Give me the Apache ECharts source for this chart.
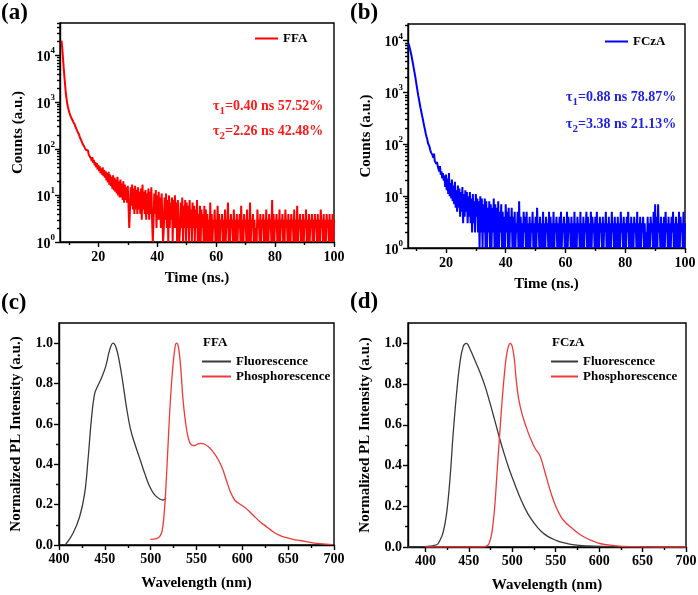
<!DOCTYPE html>
<html><head><meta charset="utf-8">
<script src="https://cdn.jsdelivr.net/npm/echarts@6/dist/echarts.min.js"></script>
<style>html,body{margin:0;padding:0;background:#fff}#c{width:698px;height:595px}</style>
</head><body><div id="c"></div>
<script>
// ---------------- data ----------------
const decayT0 = 7.5;      // ns, first channel
const decayStep = 0.25;   // ns per channel
const ffaCounts = [
  21000,15000,9000,5500,3500,2300,1500,1150,900,760,650,580,520,480,440,410,380,350,330,300,
  270,255,230,215,200,175,160,150,145,125,130,110,118,95,100,88,92,75,80,68,
  62,55,66,50,58,44,52,40,49,36,45,33,42,30,38,28,40,26,35,24,
  33,21,30,19,32,17,28,16,25,14,27,13,24,12,22,11,25,10,20,9,
  22,9,18,8,20,7,17,8,15,7,16,6,2,5,15,6,17,5,14,4,
  16,5,13,4,15,5,12,4,14,3,17,5,12,4,13,3,11,4,14,3,
  12,4,15,3,1,3,11,4,13,2,10,3,12,3,9,2,11,3,1,2,
  9,3,11,2,8,1,10,2,7,3,9,1,8,2,10,2,7,1,8,2,
  1,2,7,2,9,1,6,2,8,1,7,2,6,1,8,2,5,1,7,2,
  6,1,5,2,8,1,4,1,6,1,5,2,4,1,6,1,5,1,4,1,
  3,1,7,1,4,1,3,2,5,1,3,1,6,1,4,1,3,2,4,1,
  3,1,5,1,3,2,7,1,3,1,4,2,3,1,5,1,3,1,4,1,
  3,2,4,1,6,1,3,1,4,2,3,1,5,1,3,1,7,1,3,2,
  4,1,3,1,2,1,5,2,3,1,4,1,3,2,4,1,3,1,5,1,
  3,1,4,2,3,1,8,1,4,1,3,2,4,1,3,1,5,1,3,2,
  4,1,3,1,5,2,3,1,4,1,3,1,4,2,3,1,5,1,3,1,
  6,1,3,2,4,1,3,1,4,1,3,2,5,1,3,1,4,1,3,2,
  4,1,3,1,4,2,3,1,4,1,3,1,5,2,3,1,4,1,3,1,
  4,2,3,1,4,1,3,1,4,1,3
];
const fczaCounts = [
  8700,7800,6800,5900,5000,4200,3500,2900,2400,2000,1600,1300,1050,860,720,600,500,430,360,310,
  260,220,190,160,140,125,105,98,90,78,70,74,62,55,66,48,52,42,46,38,
  36,30,38,26,30,22,28,20,25,15,26,13,22,11,28,10,18,9,21,8,
  16,7,19,6,13,5,16,6,14,4,12,5,15,3,11,4,13,5,12,3,
  10,4,12,3,9,2,11,3,8,2,11,4,9,2,8,1,10,2,9,1,
  7,2,9,1,8,1,6,2,8,1,7,1,6,2,9,1,7,1,6,1,
  8,1,5,2,7,1,5,1,4,1,7,2,5,1,6,1,4,2,6,1,
  4,1,5,1,3,2,5,1,8,1,4,1,3,1,5,2,4,1,5,1,
  3,1,4,1,3,2,5,1,3,1,4,1,6,2,3,1,4,1,3,1,
  5,1,3,1,4,2,3,1,5,1,4,1,3,1,5,1,3,2,4,1,
  3,1,4,1,5,1,3,2,4,1,3,1,5,1,4,2,3,1,4,1,
  3,1,5,1,3,1,4,2,3,1,5,1,3,1,4,1,3,2,5,1,
  4,1,3,1,5,1,4,2,3,1,4,1,5,1,3,1,4,2,3,1,
  4,1,3,2,5,1,3,1,4,1,3,1,5,2,3,1,4,1,3,1,
  4,1,3,1,5,2,3,1,4,1,3,1,4,2,5,1,3,1,4,1,
  3,1,4,2,3,1,5,1,3,1,4,1,3,2,4,1,3,1,2,1,
  4,1,3,1,4,2,3,1,5,1,7,1,4,1,7,2,3,1,4,1,
  3,1,4,1,5,2,3,1,4,1,3,1,4,2,5,1,3,1,4,1,
  3,1,5,1,4,2,3,1,5,1,3
];
const timeTicks = [20, 40, 60, 80, 100];
const timeMinorTicks = [10, 30, 50, 70, 90];

// (c) FFA spectra
const ffaFlWl = [406.9,415.3,422.5,428,431.6,435.3,438.9,442.5,446.2,450.9,455.3,458.9,462.5,466.2,469.8,473.5,477.8,482.5,488,493.5,498.9,504.4,509.8,513.5,517];
const ffaFlI  = [0,0.058,0.14,0.256,0.42,0.62,0.75,0.79,0.826,0.884,0.967,1.0,0.975,0.90,0.80,0.686,0.578,0.504,0.43,0.355,0.29,0.248,0.228,0.223,0.231];
const ffaPhWl = [499.6,506.2,509.8,512.7,515.3,517.8,520.7,523.6,526.2,528,530.2,532.7,535.3,538.2,541.1,544.4,548,551.6,555.3,558.9,563.6,568.7,573.5,578.2,582.5,586.9,591.6,597.1,602.5,608,613.5,618.9,626.2,633.5,640.7,648,655.3,664.4,673.5,684.4,698.9];
const ffaPhI  = [0.028,0.031,0.041,0.074,0.19,0.388,0.653,0.851,0.967,1.0,0.983,0.884,0.719,0.603,0.529,0.496,0.493,0.501,0.504,0.499,0.484,0.458,0.425,0.38,0.322,0.264,0.223,0.203,0.187,0.165,0.14,0.117,0.091,0.066,0.048,0.036,0.028,0.021,0.013,0.007,0.002];
// (d) FCzA spectra
const fczaFlWl = [380,400,413,416.8,420.6,424.4,428.2,432,435.9,439.7,443.5,447.3,451.1,456.9,462.6,468.3,474,479.8,485.5,491.2,496.9,502.7,510.3,517.9,525.6,533.2,540.8,550.4,559.9,571.4,586.6,609.5,636,700];
const fczaFlI  = [0,0.002,0.011,0.033,0.074,0.164,0.328,0.557,0.754,0.902,0.984,1.0,0.975,0.918,0.861,0.795,0.713,0.623,0.533,0.451,0.377,0.311,0.23,0.164,0.115,0.077,0.052,0.033,0.02,0.01,0.005,0.002,0,0];
const fczaPhWl = [400,464.5,471.4,474.0,476.7,479.8,482.4,485.1,487.8,490.5,493.1,495.8,497.7,500.0,502.3,504.6,507.3,511.1,516.0,521.0,526.3,530.5,533.2,537.0,540.8,545.4,550.4,556.1,561.8,568.3,575.2,582.8,592.4,601.9,617.2,636.3,670.6,700];
const fczaPhI  = [0,0,0.007,0.025,0.074,0.197,0.36,0.525,0.689,0.828,0.934,0.989,1.0,0.984,0.926,0.82,0.73,0.656,0.59,0.533,0.484,0.459,0.434,0.377,0.32,0.254,0.197,0.148,0.118,0.095,0.07,0.049,0.03,0.016,0.007,0.002,0,0];
const wlTicksC = [400, 450, 500, 550, 600, 650, 700];
const wlTicksD = [400, 450, 500, 550, 600, 650, 700];
const wlMinorTicks = [425, 475, 525, 575, 625, 675];
const plTicks = [0, 0.2, 0.4, 0.6, 0.8, 1.0];
const plMinorTicks = [0.1, 0.3, 0.5, 0.7, 0.9];
const decadeExps = [0, 1, 2, 3, 4];
const minorMantissas = [2, 3, 4, 5, 6, 7, 8, 9];

// ---------------- helpers ----------------
const FONT = "'Liberation Serif','Times New Roman',serif";
const lbl = {color:'#000', fontFamily:FONT, fontWeight:'bold', fontSize:14};
const nm = {color:'#000', fontFamily:FONT, fontWeight:'bold', fontSize:15};
const zip = (a, b) => a.map((v, i) => [v, b[i]]);
const decay = arr => arr.map((v, i) => [decayT0 + i * decayStep, v]);
const logMinor = max => {
  const out = [];
  decadeExps.forEach(e => minorMantissas.forEach(m => {
    const p = Math.log10(m) + e; if (p <= Math.log10(max)) out.push(p);
  }));
  return out;
};

function axis(o) {
  const a = {
    gridIndex:o.g, type:o.type || 'value', position:o.pos, min:o.min, max:o.max,
    axisLine:{show:!!o.line, onZero:false, lineStyle:{color:'#000', width:1.4}},
    axisTick:{show:!!o.ticks, inside:false, length:o.len || 5, lineStyle:{color:'#000', width:1.4}},
    axisLabel:Object.assign({show:!!o.labels, margin:o.margin || 5}, lbl),
    splitLine:{show:false}, minorTick:{show:false}, minorSplitLine:{show:false},
    name:o.name || '', nameLocation:'middle', nameGap:o.gap || 30, nameTextStyle:nm,
    silent:true
  };
  if (Array.isArray(o.ticks)) a.axisTick.customValues = o.ticks;
  if (Array.isArray(o.labels)) a.axisLabel.customValues = o.labels;
  if (o.fmt) a.axisLabel.formatter = o.fmt;
  if (o.rich) a.axisLabel.rich = o.rich;
  if (o.noMax) a.axisLabel.showMaxLabel = false;
  return a;
}
const supFmt = v => {
  const e = Math.log10(v);
  if (Math.abs(e - Math.round(e)) > 1e-6) return '';
  return '{b|10}{s|' + Math.round(e) + '}';
};
const supRich = {
  b:{fontFamily:FONT, fontWeight:'bold', fontSize:14, color:'#000', lineHeight:18, verticalAlign:'bottom'},
  s:{fontFamily:FONT, fontWeight:'bold', fontSize:9, color:'#000', lineHeight:18, verticalAlign:'top'}
};

const grids = [
  {left:60, top:23, width:274, height:219},
  {left:408, top:24, width:277, height:224},
  {left:59, top:323, width:275, height:222},
  {left:408, top:323, width:278, height:224}
].map(g => Object.assign(g, {show:true, borderColor:'#000', borderWidth:1.4, containLabel:false, outerBoundsMode:'none'}));

const maxA = 50000, maxB = 21000;
const xAxes = [], yAxes = [];
// grid 0 (a)
xAxes.push(axis({g:0, pos:'bottom', min:7, max:100, line:true, ticks:timeTicks, labels:timeTicks, margin:8, name:'Time (ns.)', gap:29}));
xAxes.push(axis({g:0, pos:'bottom', min:7, max:100, ticks:timeMinorTicks, len:3}));
yAxes.push(axis({g:0, pos:'left', type:'log', min:1, max:maxA, line:true, labels:true, fmt:supFmt, rich:supRich, noMax:true, name:'Counts (a.u.)', gap:34}));
yAxes.push(axis({g:0, pos:'left', min:0, max:Math.log10(maxA), ticks:decadeExps}));
yAxes.push(axis({g:0, pos:'left', min:0, max:Math.log10(maxA), ticks:logMinor(maxA), len:3}));
// grid 1 (b)
xAxes.push(axis({g:1, pos:'bottom', min:7.3, max:100, line:true, ticks:timeTicks, labels:timeTicks, margin:8, name:'Time (ns.)', gap:29}));
xAxes.push(axis({g:1, pos:'bottom', min:7.3, max:100, ticks:timeMinorTicks, len:3}));
yAxes.push(axis({g:1, pos:'left', type:'log', min:1, max:maxB, line:true, labels:true, fmt:supFmt, rich:supRich, noMax:true, name:'Counts (a.u.)', gap:34}));
yAxes.push(axis({g:1, pos:'left', min:0, max:Math.log10(maxB), ticks:decadeExps}));
yAxes.push(axis({g:1, pos:'left', min:0, max:Math.log10(maxB), ticks:logMinor(maxB), len:3}));
// grid 2 (c)
xAxes.push(axis({g:2, pos:'bottom', min:400, max:700, line:true, ticks:wlTicksC, labels:wlTicksC, margin:7, name:'Wavelength (nm)', gap:31}));
xAxes.push(axis({g:2, pos:'bottom', min:400, max:700, ticks:wlMinorTicks, len:3}));
yAxes.push(axis({g:2, pos:'left', min:0, max:1.1, line:true, ticks:plTicks, labels:plTicks, margin:6, fmt:v => v.toFixed(1), name:'Normalized PL Intensity (a.u.)', gap:35}));
yAxes.push(axis({g:2, pos:'left', min:0, max:1.1, ticks:plMinorTicks, len:3}));
// grid 3 (d)
xAxes.push(axis({g:3, pos:'bottom', min:380, max:700, line:true, ticks:wlTicksD, labels:wlTicksD, margin:7, name:'Wavelength (nm)', gap:31}));
xAxes.push(axis({g:3, pos:'bottom', min:380, max:700, ticks:wlMinorTicks, len:3}));
yAxes.push(axis({g:3, pos:'left', min:0, max:1.1, line:true, ticks:plTicks, labels:plTicks, margin:6, fmt:v => v.toFixed(1), name:'Normalized PL Intensity (a.u.)', gap:35}));
yAxes.push(axis({g:3, pos:'left', min:0, max:1.1, ticks:plMinorTicks, len:3}));

const RED = '#ff0000', BLUE = '#0000ff', GREY = '#3a3a3a', PRED = '#f03a3a';
const lineS = (name, xi, yi, data, color, w, smooth) => ({
  type:'line', name, xAxisIndex:xi, yAxisIndex:yi, data, color, symbol:'none', showSymbol:false,
  smooth:smooth || false, clip:true, animation:false,
  lineStyle:{color, width:w}
});
const series = [
  lineS('FFA', 0, 0, decay(ffaCounts), RED, 2),
  lineS('FCzA', 2, 3, decay(fczaCounts), BLUE, 2),
  lineS('Fluorescence', 4, 6, zip(ffaFlWl, ffaFlI), GREY, 1.3, 0.4),
  lineS('Phosphorescence', 4, 6, zip(ffaPhWl, ffaPhI), PRED, 1.3, 0.4),
  lineS('Fluorescence', 6, 8, zip(fczaFlWl, fczaFlI), GREY, 1.3, 0.4),
  lineS('Phosphorescence', 6, 8, zip(fczaPhWl, fczaPhI), PRED, 1.3, 0.4)
];

const legTxt = {color:'#000', fontFamily:FONT, fontWeight:'bold', fontSize:13};
const legends = [
  {data:['FFA'], left:250, top:27, itemWidth:23, itemHeight:2, icon:'rect', textStyle:legTxt, selectedMode:false},
  {data:['FCzA'], left:600, top:30, itemWidth:23, itemHeight:2, icon:'rect', textStyle:legTxt, selectedMode:false},
  {data:['Fluorescence','Phosphorescence'], orient:'vertical', left:197, top:350, itemWidth:29, itemHeight:2, itemGap:2, icon:'rect', textStyle:legTxt, selectedMode:false},
  {data:['Fluorescence','Phosphorescence'], orient:'vertical', left:546, top:350, itemWidth:27, itemHeight:2, itemGap:2, icon:'rect', textStyle:legTxt, selectedMode:false}
];

const panelFont = 'bold 23px ' + FONT;
const tauRich = color => ({
  g:{fontFamily:FONT, fontWeight:'bold', fontSize:14, fill:color, lineHeight:18, verticalAlign:'top'},
  s:{fontFamily:FONT, fontWeight:'bold', fontSize:11, fill:color, lineHeight:18, verticalAlign:'bottom'}
});
const tauText = (x, y, sub, rest, color) => ({
  type:'text', left:x, top:y, silent:true,
  style:{text:'{g|τ}{s|' + sub + '}{g|' + rest + '}', rich:tauRich(color), fill:color}
});
const plainText = (x, y, t, font) => ({type:'text', left:x, top:y, silent:true, style:{text:t, font:font, fill:'#000'}});

const option = {
  animation:false,
  backgroundColor:'#fff',
  grid:grids, xAxis:xAxes, yAxis:yAxes, series, legend:legends,
  graphic:[
    plainText(1, 2, '(a)', panelFont),
    plainText(350, 2, '(b)', panelFont),
    plainText(1, 292, '(c)', panelFont),
    plainText(350, 291, '(d)', panelFont),
    plainText(203, 336, 'FFA', 'bold 13px ' + FONT),
    plainText(552, 336, 'FCzA', 'bold 13px ' + FONT),
    tauText(213, 99, '1', '=0.40 ns 57.52%', '#ff1a1a'),
    tauText(213, 124, '2', '=2.26 ns 42.48%', '#ff1a1a'),
    tauText(566, 90, '1', '=0.88 ns 78.87%', '#1f1fe0'),
    tauText(566, 117, '2', '=3.38 ns 21.13%', '#1f1fe0')
  ]
};
const chart = echarts.init(document.getElementById('c'));
chart.setOption(option);
</script></body></html>
